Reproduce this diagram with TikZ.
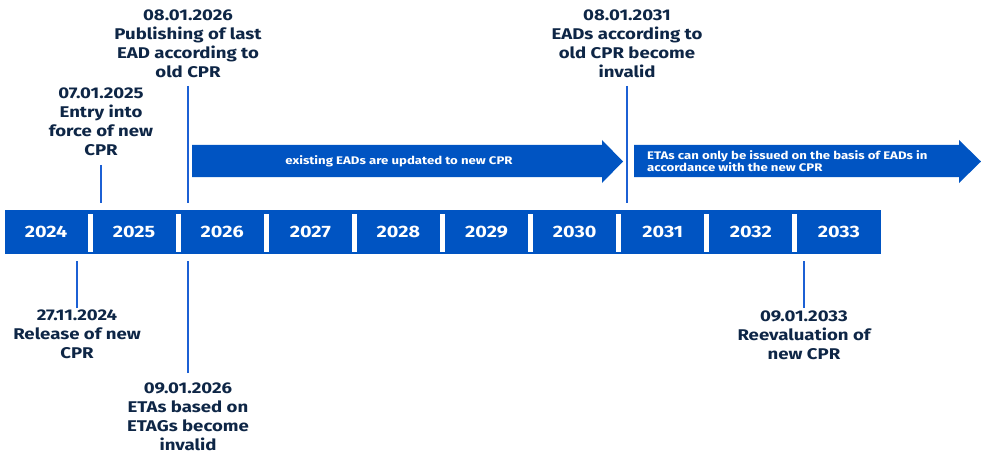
\documentclass[tikz,border=0pt]{standalone}
\usepackage{fontspec}
\setmainfont{Fira Sans}[FakeStretch=1.2]
\usetikzlibrary{positioning}
\definecolor{barblue}{RGB}{0,84,194}
\definecolor{tickblue}{RGB}{28,96,212}
\definecolor{navy}{RGB}{14,38,70}

\begin{document}
\begin{tikzpicture}[x=1pt,y=-1pt,
		event/.style={font=\fontsize{15.5}{18.7}\selectfont\bfseries, text=navy, align=center, inner sep=0pt},
		year/.style={font=\fontsize{16.5}{18}\selectfont\bfseries, text=white, inner sep=0pt},
		tick/.style={draw=tickblue, line width=2pt},
		arrowtext/.style={font=\fontsize{11}{12.2}\selectfont\bfseries, text=white, inner sep=0pt}]
		\useasboundingbox (0,0) rectangle (981,465);
		% timeline bar
		\fill[barblue] (5,210) rectangle (880.5,254);
		\foreach \i in {0,...,9} {
			\pgfmathtruncatemacro{\yr}{2024+\i}
			\node[year] (y\yr) at (46+88.1*\i,232) {\yr};
		}
		\foreach \i in {0,...,8}
			\fill[white] (87.5+88.06*\i,214) rectangle (92.5+88.06*\i,252);
		% phases
		\fill[barblue] (192,145) -- (602,145) -- (602,140) -- (623,161.5) -- (602,183) -- (602,177) -- (192,177) -- cycle;
		\fill[barblue] (634,145) -- (959,145) -- (959,140) -- (981,161.5) -- (959,183) -- (959,177) -- (634,177) -- cycle;
		\draw
			(399,161.5) node [arrowtext] (update) {existing EADs are updated to new CPR}
			(647,161.5) node [arrowtext, align=left, anchor=west] (issue) {ETAs can only be issued on the basis of EADs in\\accordance with the new CPR}
			;
		% events
		\draw
			(101,155.5) node [event, anchor=south] (entry) {07.01.2025\\Entry into\\force of new\\CPR}
			(188,77.5) node [event, anchor=south] (lastead) {08.01.2026\\Publishing of last\\EAD according to\\old CPR}
			(627,77.5) node [event, anchor=south] (oldead) {08.01.2031\\EADs according to\\old CPR become\\invalid}
			(77,310) node [event, anchor=north] (release) {27.11.2024\\Release of new\\CPR}
			(188,383) node [event, anchor=north] (etag) {09.01.2026\\ETAs based on\\ETAGs become\\invalid}
			(804,311) node [event, anchor=north] (reeval) {09.01.2033\\Reevaluation of\\new CPR}
			;
		\coordinate (t-entry) at (101,203);
		\coordinate (t-lastead) at (188,203);
		\coordinate (t-oldead) at (627,203);
		\coordinate (t-release) at (77,261);
		\coordinate (t-etag) at (188,261);
		\coordinate (t-reeval) at (804,261);
		\draw[tick, shorten <=9.5pt] (entry) -- (t-entry);
		\draw[tick, shorten <=8.5pt] (lastead) -- (t-lastead);
		\draw[tick, shorten <=8.5pt] (oldead) -- (t-oldead);
		\draw[tick, shorten <=2pt] (release) -- (t-release);
		\draw[tick, shorten <=10pt] (etag) -- (t-etag);
		\draw[tick, shorten <=3pt] (reeval) -- (t-reeval);
	\end{tikzpicture}
\end{document}
